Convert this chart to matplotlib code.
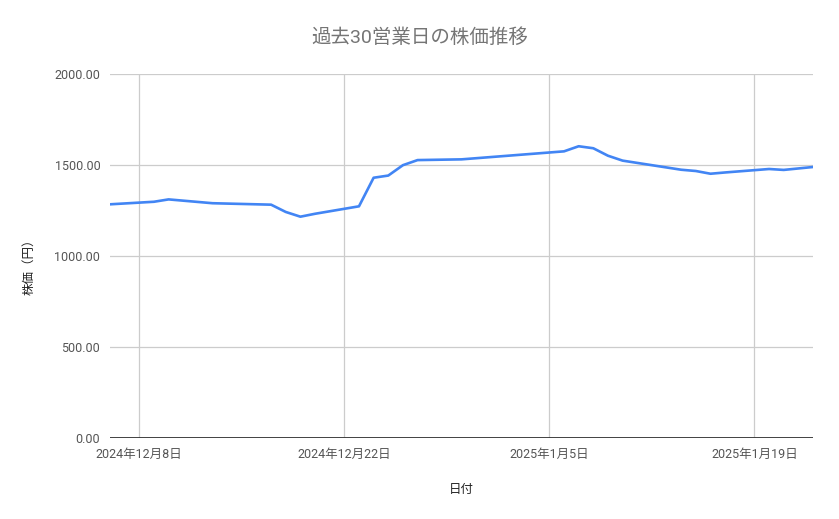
import datetime as dt
import matplotlib
matplotlib.use("Agg")
import matplotlib.pyplot as plt

plt.rcParams["font.family"] = ["Roboto", "Noto Sans CJK JP", "DejaVu Sans"]

dates = ["2024-12-06", "2024-12-09", "2024-12-10", "2024-12-11", "2024-12-12",
         "2024-12-13", "2024-12-16", "2024-12-17", "2024-12-18", "2024-12-19",
         "2024-12-20", "2024-12-23", "2024-12-24", "2024-12-25", "2024-12-26",
         "2024-12-27", "2024-12-30", "2025-01-06", "2025-01-07", "2025-01-08",
         "2025-01-09", "2025-01-10", "2025-01-14", "2025-01-15", "2025-01-16",
         "2025-01-17", "2025-01-20", "2025-01-21", "2025-01-22", "2025-01-23"]
prices = [1284, 1298, 1311, 1304, 1297, 1290, 1284, 1282, 1242, 1216,
          1232, 1273, 1430, 1442, 1499, 1527, 1531, 1575, 1603, 1592,
          1551, 1524, 1474, 1467, 1452, 1459, 1478, 1473, 1481, 1489]
tick_dates = ["2024-12-08", "2024-12-22", "2025-01-05", "2025-01-19"]
y_ticks = [0, 500, 1000, 1500, 2000]

x = [dt.datetime.strptime(d, "%Y-%m-%d") for d in dates]
xt = [dt.datetime.strptime(d, "%Y-%m-%d") for d in tick_dates]

fig = plt.figure(figsize=(8.39, 5.19), dpi=100)
ax = fig.add_axes([110 / 839, 81 / 519, 703 / 839, 364 / 519])

ax.plot(x, prices, color="#4285F4", lw=1.9, solid_joinstyle="round", zorder=3)

ax.set_xlim(x[0], x[-1])
ax.set_ylim(0, 2000)
ax.set_xticks(xt)
ax.set_xticklabels([f"{d.year}年{d.month}月{d.day}日" for d in xt])
ax.set_yticks(y_ticks)
ax.set_yticklabels([f"{v:.2f}" for v in y_ticks])

ax.grid(True, color="#cccccc", lw=0.9)
ax.set_axisbelow(True)
for s in ax.spines.values():
    s.set_visible(False)
ax.axhline(0, color="#333333", lw=1.3, zorder=2)
ax.tick_params(axis="both", length=0, labelsize=9, colors="#555555")
ax.tick_params(axis="x", pad=7)
ax.tick_params(axis="y", pad=7)

ax.set_xlabel("日付", fontsize=9, color="#222222", labelpad=16)
ax.set_ylabel("株価（円）", fontsize=9, color="#222222", labelpad=9)
ax.yaxis.set_label_coords(-75 / 703, 0.48)
fig.text(0.5, 1 - 38 / 519, "過去30営業日の株価推移", ha="center", va="center",
         fontsize=14, color="#757575")

fig.savefig("out.png", dpi=100)
